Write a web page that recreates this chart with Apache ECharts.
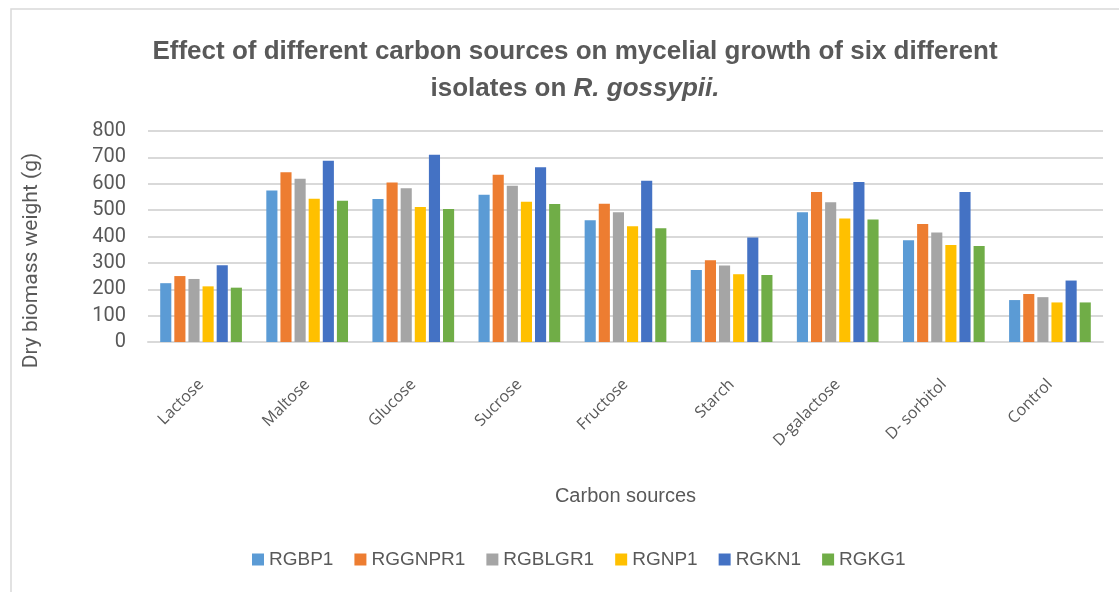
<!DOCTYPE html>
<html>
<head>
<meta charset="utf-8">
<script src="https://cdn.jsdelivr.net/npm/echarts@6/dist/echarts.min.js"></script>
<style>
  html, body { margin: 0; padding: 0; background: #fff; }
  #chart { width: 1119px; height: 592px; }
</style>
</head>
<body>
<div id="chart"></div>
<script>
var categories = ['Lactose', 'Maltose', 'Glucose', 'Sucrose', 'Fructose', 'Starch', 'D-galactose', 'D- sorbitol', 'Control'];
var isolates = ['RGBP1', 'RGGNPR1', 'RGBLGR1', 'RGNP1', 'RGKN1', 'RGKG1'];
var colors = ['#5B9BD5', '#ED7D31', '#A5A5A5', '#FFC000', '#4472C4', '#70AD47'];

var rgbp1   = [223, 574, 542, 558, 462, 273, 492, 386, 159];
var rggnpr1 = [250, 644, 605, 634, 524, 310, 569, 447, 182];
var rgblgr1 = [239, 619, 583, 592, 492, 290, 530, 415, 170];
var rgnp1   = [211, 543, 512, 532, 439, 257, 468, 368, 150];
var rgkn1   = [291, 687, 710, 663, 611, 396, 607, 569, 233];
var rgkg1   = [206, 536, 504, 523, 431, 254, 464, 364, 150];

var seriesValues = [rgbp1, rggnpr1, rgblgr1, rgnp1, rgkn1, rgkg1];
var textColor = '#595959';

var option = {
    color: colors,
    animation: false,
    title: {
        text: 'Effect of different carbon sources on mycelial growth of six different\n{n|isolates on }{i|R. gossypii.}',
        left: 570,
        top: 28,
        textAlign: 'center',
        textStyle: {
            fontFamily: 'Liberation Sans Narrow, Arial Narrow, sans-serif',
            fontSize: 26,
            fontWeight: 'bold',
            color: textColor,
            lineHeight: 37,
            rich: {
                n: { fontFamily: 'Liberation Sans Narrow, sans-serif', fontSize: 26, fontWeight: 'bold', color: textColor, lineHeight: 37 },
                i: { fontFamily: 'Liberation Sans Narrow, sans-serif', fontSize: 26, fontWeight: 'bold', fontStyle: 'italic', color: textColor, lineHeight: 37 }
            }
        }
    },
    legend: {
        data: isolates,
        bottom: 18,
        left: 247,
        itemWidth: 12,
        itemHeight: 12,
        itemGap: 21,
        icon: 'rect',
        textStyle: { fontFamily: 'Liberation Sans Narrow, sans-serif', fontSize: 19, color: textColor }
    },
    grid: {
        left: 148,
        right: 16,
        top: 131,
        bottom: 250,
        containLabel: false
    },
    xAxis: [
        {
            type: 'category',
            data: categories,
            name: 'Carbon sources',
            nameLocation: 'middle',
            nameGap: 144,
            nameTextStyle: { fontFamily: 'Liberation Sans Narrow, sans-serif', fontSize: 20, color: textColor },
            axisLine: { lineStyle: { color: '#d9d9d9', width: 2 } },
            axisTick: { show: false },
            axisLabel: {
                rotate: 45,
                margin: 40,
                fontFamily: 'Open Sans, sans-serif',
                fontSize: 16,
                color: textColor
            }
        }
    ],
    yAxis: [
        {
            type: 'value',
            min: 0,
            max: 800,
            interval: 100,
            name: 'Dry biomass weight (g)',
            nameLocation: 'middle',
            nameGap: 106,
            nameTextStyle: { fontFamily: 'Roboto, sans-serif', fontSize: 21, color: textColor, padding: [0, 48, 0, 0] },
            axisLine: { show: false },
            axisTick: { show: false },
            axisLabel: { fontFamily: 'Roboto, sans-serif', fontSize: 20, color: textColor, margin: 22 },
            splitLine: { lineStyle: { color: '#d9d9d9', width: 2 } }
        }
    ],
    graphic: [
        {
            type: 'polyline',
            shape: { points: [[11, 592], [11, 9], [1119, 9]] },
            style: { stroke: '#d9d9d9', lineWidth: 1.5, fill: null }
        }
    ],
    series: []
};

for (var i = 0; i < isolates.length; i++) {
    option.series.push({
        name: isolates[i],
        type: 'bar',
        data: seriesValues[i],
        barGap: '27%',
        barCategoryGap: '23%'
    });
}

// 基于准备好的dom，初始化echarts实例
var myChart = echarts.init(document.getElementById('chart'));
myChart.setOption(option);
</script>
</body>
</html>
